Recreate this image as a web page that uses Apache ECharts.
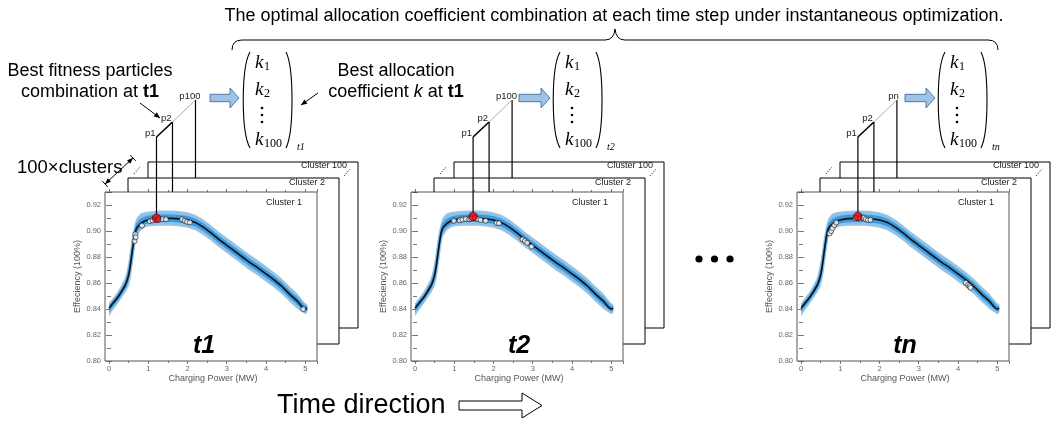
<!DOCTYPE html>
<html>
<head>
<meta charset="utf-8">
<script src="https://cdn.jsdelivr.net/npm/echarts@6/dist/echarts.min.js"></script>
<style>
  html, body { margin: 0; padding: 0; background: #fff; }
  #main { width: 1051px; height: 424px; }
</style>
</head>
<body>
<div id="main"></div>
<script>
// charging power (MW) sampled along the efficiency curve
const powerX = [0, 0.1, 0.2, 0.3, 0.4, 0.45, 0.5, 0.55, 0.6, 0.65, 0.7, 0.8, 0.9, 1.0, 1.2, 1.4, 1.6, 1.8, 2.0,
  2.2, 2.4, 2.6, 2.8, 3.0, 3.2, 3.4, 3.6, 3.8, 4.0, 4.2, 4.4, 4.6, 4.8, 5.0, 5.05];
// mean efficiency curve (black line)
const effMean = [0.8405, 0.8445, 0.8480, 0.8525, 0.8575, 0.8610, 0.8660, 0.8750, 0.8860, 0.8960, 0.9020, 0.9055,
  0.9075, 0.9085, 0.9095, 0.9097, 0.9097, 0.9093, 0.9085, 0.9065, 0.9030, 0.8985, 0.8935, 0.8890, 0.8845, 0.8800,
  0.8755, 0.8715, 0.8670, 0.8625, 0.8575, 0.8515, 0.8460, 0.8400, 0.8405];
// outer edges of the blue band
const effUpper = [0.8445, 0.8485, 0.8525, 0.8575, 0.8635, 0.8690, 0.8770, 0.8880, 0.8980, 0.9050, 0.9100, 0.9135,
  0.9145, 0.9150, 0.9155, 0.9157, 0.9157, 0.9153, 0.9145, 0.9125, 0.9090, 0.9045, 0.8995, 0.8950, 0.8905, 0.8860,
  0.8815, 0.8775, 0.8730, 0.8685, 0.8635, 0.8575, 0.8520, 0.8445, 0.8440];
const effLower = [0.8345, 0.8390, 0.8430, 0.8475, 0.8520, 0.8545, 0.8575, 0.8630, 0.8730, 0.8850, 0.8950, 0.9000,
  0.9025, 0.9035, 0.9040, 0.9040, 0.9040, 0.9035, 0.9025, 0.9005, 0.8970, 0.8925, 0.8875, 0.8830, 0.8785, 0.8740,
  0.8695, 0.8655, 0.8610, 0.8565, 0.8515, 0.8455, 0.8400, 0.8360, 0.8370];

// particles (white) and best particle (red) per time step
const particlesT1 = [[0.65, 0.8922], [0.67, 0.8975], [0.68, 0.8952], [0.84, 0.9042], [1.04, 0.9075], [1.11, 0.9082],
  [1.27, 0.9086], [1.36, 0.9092], [1.45, 0.9090], [1.86, 0.9090], [1.93, 0.9078], [1.99, 0.9070], [2.06, 0.9066],
  [4.95, 0.8400]];
const particlesT2 = [[0.99, 0.9079], [1.14, 0.9083], [1.21, 0.9088], [1.29, 0.9093], [1.38, 0.9090], [1.43, 0.9095],
  [1.53, 0.9099], [1.60, 0.9092], [1.67, 0.9085], [1.80, 0.9079], [2.08, 0.9062], [2.14, 0.9060], [2.74, 0.8936],
  [2.80, 0.8923], [2.86, 0.8910], [2.97, 0.8880]];
const particlesTn = [[0.73, 0.8982], [0.77, 0.9000], [0.80, 0.9022], [0.85, 0.9045], [0.90, 0.9065], [1.39, 0.9098],
  [1.50, 0.9095], [1.58, 0.9103], [1.65, 0.9090], [1.71, 0.9084], [1.77, 0.9086], [4.20, 0.8602], [4.26, 0.8585],
  [4.30, 0.8575], [4.32, 0.8563]];
const bestT1 = [1.21, 0.9098];
const bestT2 = [1.48, 0.9112];
const bestTn = [1.45, 0.9112];

const timeLabels = ['t1', 't2', 'tn'];
const lastParticle = ['p100', 'p100', 'pn'];
const kRows = ['1', '2', '100'];
const yTickMin = 0.80, yTickMax = 0.93, yTickStep = 0.02;
const xTickMin = 0, xTickMax = 5.3, xTickStep = 1;

const particles = [particlesT1, particlesT2, particlesTn];
const best = [bestT1, bestT2, bestTn];

const FONT = '"Liberation Sans", Arial, sans-serif';
const SERIF = '"Liberation Serif", "Times New Roman", serif';

// panel layout
const panelLeft = [105, 411, 797];
const plotTop = 192, plotW = 212, plotH = 169;
const tOffset = [99, 108, 108];
const arrowX = [[210, 239], [519, 550], [905, 935]];
const matrixX = [242, 552, 937];

const chart = echarts.init(document.getElementById('main'));

const grids = [], xAxes = [], yAxes = [], series = [];
const tickStyle = { color: '#555', width: 0.8 };

panelLeft.forEach((P, i) => {
  grids.push({ left: P + 4, top: plotTop, width: plotW - 4, height: plotH, containLabel: false });
  const xBase = {
    type: 'value', gridIndex: i, min: xTickMin, max: xTickMax, interval: xTickStep,
    axisLine: { show: false }, splitLine: { show: false },
    axisTick: { length: 3, lineStyle: tickStyle },
    minorTick: { show: true, splitNumber: 2, length: 2, lineStyle: tickStyle }
  };
  xAxes.push(Object.assign({}, xBase, {
    position: 'bottom',
    axisLabel: { fontSize: 7.5, color: '#666', margin: 4, showMaxLabel: false, fontFamily: FONT },
    name: 'Charging Power (MW)', nameLocation: 'middle', nameGap: 12,
    nameTextStyle: { fontSize: 9, color: '#555', fontFamily: FONT }
  }));
  xAxes.push(Object.assign({}, xBase, { position: 'top', axisLabel: { show: false } }));
  const yBase = {
    type: 'value', gridIndex: i, min: yTickMin, max: yTickMax, interval: yTickStep,
    axisLine: { show: false }, splitLine: { show: false },
    axisTick: { length: 3, lineStyle: tickStyle },
    minorTick: { show: true, splitNumber: 2, length: 2, lineStyle: tickStyle }
  };
  yAxes.push(Object.assign({}, yBase, {
    position: 'left', offset: 4,
    axisLabel: { fontSize: 7.5, color: '#666', margin: 4, showMaxLabel: false, fontFamily: FONT,
      formatter: v => v.toFixed(2) },
    name: 'Effeciency (100%)', nameLocation: 'middle', nameGap: 22,
    nameTextStyle: { fontSize: 9, color: '#555', fontFamily: FONT }
  }));
  yAxes.push(Object.assign({}, yBase, { position: 'right', axisLabel: { show: false } }));

  const ax = { xAxisIndex: 2 * i, yAxisIndex: 2 * i };
  series.push(Object.assign({
    type: 'custom', data: [[0, 0.85]], silent: true, z: 1,
    renderItem: (params, api) => {
      const layers = [[1, '#a7c3da'], [0.82, '#86c3ee'], [0.5, '#3d99de']];
      return {
        type: 'group',
        children: layers.map(([f, c]) => {
          const up = powerX.map((x, k) => api.coord([x, effMean[k] + f * (effUpper[k] - effMean[k])]));
          const lo = powerX.map((x, k) => api.coord([x, effMean[k] - f * (effMean[k] - effLower[k])])).reverse();
          return { type: 'polygon', shape: { points: up.concat(lo) }, style: { fill: c } };
        })
      };
    }
  }, ax));
  series.push(Object.assign({
    type: 'line', data: powerX.map((x, k) => [x, effMean[k]]), showSymbol: false, smooth: 0.3,
    lineStyle: { color: '#111', width: 1.6 }, z: 3, silent: true
  }, ax));
  series.push(Object.assign({
    type: 'scatter', data: particles[i], symbolSize: 5, z: 4,
    itemStyle: { color: '#fff', borderColor: '#111', borderWidth: 0.8 }
  }, ax));
  series.push(Object.assign({
    type: 'scatter', data: [best[i]], symbolSize: 8.5, z: 5,
    itemStyle: { color: '#e60000', borderColor: '#300', borderWidth: 0.8 }
  }, ax));
});

chart.setOption({
  animation: false,
  textStyle: { fontFamily: FONT },
  grid: grids, xAxis: xAxes, yAxis: yAxes, series: series
});

// ---- annotation graphics ----
const g = [];
function line(x1, y1, x2, y2, w, c, extra) {
  return Object.assign({ type: 'line', shape: { x1, y1, x2, y2 }, style: { stroke: c || '#000', lineWidth: w || 1 }, z: 10 }, extra || {});
}
function text(x, y, str, size, opt) {
  opt = opt || {};
  return {
    type: 'text', z: 11,
    style: Object.assign({ text: str, x, y, fontSize: size, fontFamily: FONT, fill: '#000',
      textAlign: 'left', textVerticalAlign: 'middle' }, opt)
  };
}
function head(x1, y1, x2, y2, len, half) {
  const d = Math.hypot(x2 - x1, y2 - y1), ux = (x2 - x1) / d, uy = (y2 - y1) / d;
  const bx = x2 - ux * len, by = y2 - uy * len;
  return { type: 'polygon', z: 10, shape: { points: [[x2, y2], [bx - uy * half, by + ux * half], [bx + uy * half, by - ux * half]] },
    style: { fill: '#000' } };
}
function arrow(x1, y1, x2, y2) {
  g.push(line(x1, y1, x2, y2, 1));
  g.push(head(x1, y1, x2, y2, 6, 2.6));
}
function curve(x1, y1, cx, cy, x2, y2) {
  g.push({ type: 'bezierCurve', z: 10, shape: { x1, y1, x2, y2, cpx1: cx, cpy1: cy }, style: { stroke: '#000', lineWidth: 1, fill: null } });
}

panelLeft.forEach((P, i) => {
  // stacked cluster sheets
  g.push({ type: 'rect', z: -3, shape: { x: P + 43, y: 162, width: 210, height: 166 }, style: { fill: '#fff', stroke: '#000', lineWidth: 1 } });
  g.push({ type: 'rect', z: -2, shape: { x: P + 23, y: 178, width: 211, height: 166 }, style: { fill: '#fff', stroke: '#000', lineWidth: 1 } });
  g.push({ type: 'rect', z: -1, shape: { x: P, y: plotTop, width: plotW, height: plotH }, style: { fill: '#fff' } });
  g.push({ type: 'rect', z: 9, shape: { x: P, y: plotTop, width: plotW, height: plotH }, style: { fill: 'none', stroke: '#555', lineWidth: 1 } });
  g.push(text(P + 242, 166, 'Cluster 100', 9, { textAlign: 'right', fill: '#222' }));
  g.push(text(P + 220, 183, 'Cluster 2', 9, { textAlign: 'right', fill: '#222' }));
  g.push(text(P + 197, 203, 'Cluster 1', 9, { textAlign: 'right', fill: '#222' }));
  g.push(line(P + 29, 174, P + 35, 167, 1, '#000', { style: { stroke: '#000', lineWidth: 1, lineDash: [1, 1.5] } }));
  g.push(line(P + 239, 176, P + 245, 169, 1, '#000', { style: { stroke: '#000', lineWidth: 1, lineDash: [1, 1.5] } }));
  g.push(text(P + tOffset[i], 346, timeLabels[i], 25, { textAlign: 'center', fontWeight: 'bold', fontStyle: 'italic' }));

  // particle leader lines
  const [rx, ry] = chart.convertToPixel({ xAxisIndex: 2 * i, yAxisIndex: 2 * i }, best[i]);
  const p2x = rx + 16, pLx = rx + 39;
  g.push(line(rx, 137, rx, ry - 4.5, 1.2));
  g.push(line(p2x, 122, p2x, plotTop, 1.2));
  g.push(line(pLx, 100, pLx, 178, 1.2));
  g.push(line(rx, 137, p2x, 122, 1.6));
  g.push(line(p2x, 122, pLx, 100, 0.6, '#777'));
  g.push(text(rx - 1, 133, 'p1', 9.5, { textAlign: 'right', fill: '#222' }));
  g.push(text(p2x - 1, 118, 'p2', 9.5, { textAlign: 'right', fill: '#222' }));
  g.push(text(pLx + (lastParticle[i] === 'pn' ? 2 : 5), 96, lastParticle[i], 9.5, { textAlign: 'right', fill: '#222' }));

  // block arrow
  const [a0, a1] = arrowX[i], cy = 98;
  g.push({ type: 'polygon', z: 10, shape: { points: [[a0, cy - 3.7], [a1 - 9, cy - 3.7], [a1 - 9, cy - 10], [a1, cy],
    [a1 - 9, cy + 10], [a1 - 9, cy + 3.7], [a0, cy + 3.7]] }, style: { fill: '#9dc3e6', stroke: '#3b5f8a', lineWidth: 0.8 } });

  // coefficient vector
  const mx = matrixX[i], mr = mx + 51;
  g.push({ type: 'bezierCurve', z: 10, shape: { x1: mx + 8, y1: 52, cpx1: mx - 1, cpy1: 68, cpx2: mx - 1, cpy2: 132, x2: mx + 8, y2: 148 },
    style: { stroke: '#000', lineWidth: 1.1, fill: null } });
  g.push({ type: 'bezierCurve', z: 10, shape: { x1: mr - 7, y1: 52, cpx1: mr + 1, cpy1: 68, cpx2: mr + 1, cpy2: 132, x2: mr - 7, y2: 148 },
    style: { stroke: '#000', lineWidth: 1.1, fill: null } });
  [63, 90, 140].forEach((y, r) => {
    g.push(text(mx + 13, y, 'k', 19, { fontFamily: SERIF, fontStyle: 'italic' }));
    g.push(text(mx + 22, y + 4, kRows[r], 12, { fontFamily: SERIF }));
  });
  [108, 115, 122].forEach(y => g.push({ type: 'circle', z: 10, shape: { cx: mx + 20, cy: y, r: 1.3 }, style: { fill: '#000' } }));
  g.push(text(mx + 55, 147, timeLabels[i], 10, { fontFamily: SERIF, fontStyle: 'italic' }));
});

// left-hand notes (first panel)
g.push(text(90, 71, 'Best fitness particles', 18, { textAlign: 'center' }));
g.push(text(90, 92, 'combination at {b|t1}', 18, { textAlign: 'center',
  rich: { b: { fontSize: 18, fontFamily: FONT, fontWeight: 'bold', fill: '#000' } } }));
arrow(140, 103, 160, 118);
g.push(text(396, 71, 'Best allocation', 18, { textAlign: 'center' }));
g.push(text(396, 92, 'coefficient {i|k} at {b|t1}', 18, { textAlign: 'center',
  rich: { i: { fontSize: 18, fontFamily: FONT, fontStyle: 'italic', fill: '#000' },
    b: { fontSize: 18, fontFamily: FONT, fontWeight: 'bold', fill: '#000' } } }));
arrow(318, 93, 301, 105);

// 100 x clusters dimension
g.push(text(17, 168, '100×clusters', 18.5));
(function () {
  const A = [105, 184], B = [133, 158];
  const d = Math.hypot(B[0] - A[0], B[1] - A[1]), nx = -(B[1] - A[1]) / d, ny = (B[0] - A[0]) / d;
  g.push(line(A[0], A[1], B[0], B[1], 1));
  g.push(head(B[0], B[1], A[0], A[1], 6, 2.4));
  g.push(head(A[0], A[1], B[0], B[1], 6, 2.4));
  g.push(line(A[0] - nx * 4, A[1] - ny * 4, A[0] + nx * 4, A[1] + ny * 4, 1));
  g.push(line(B[0] - nx * 4, B[1] - ny * 4, B[0] + nx * 4, B[1] + ny * 4, 1));
})();

// top caption and brace
g.push(text(614, 16, 'The optimal allocation coefficient combination at each time step under instantaneous optimization.', 18,
  { textAlign: 'center' }));
curve(232, 50, 232, 40, 242, 40);
g.push(line(242, 40, 605, 40, 1));
curve(605, 40, 614, 40, 615, 29);
curve(615, 29, 616, 40, 625, 40);
g.push(line(625, 40, 988, 40, 1));
curve(988, 40, 998, 40, 998, 50);

// ellipsis between panels
[699, 714.5, 730].forEach(x => g.push({ type: 'circle', z: 10, shape: { cx: x, cy: 259, r: 3.6 }, style: { fill: '#000' } }));

// time direction
g.push(text(277, 406, 'Time direction', 27));
g.push({ type: 'polygon', z: 10, shape: { points: [[459, 401], [522, 401], [522, 393], [542, 405.5], [522, 418], [522, 410], [459, 410]] },
  style: { fill: '#fff', stroke: '#000', lineWidth: 1 } });

chart.setOption({ graphic: { elements: g } });
</script>
</body>
</html>
